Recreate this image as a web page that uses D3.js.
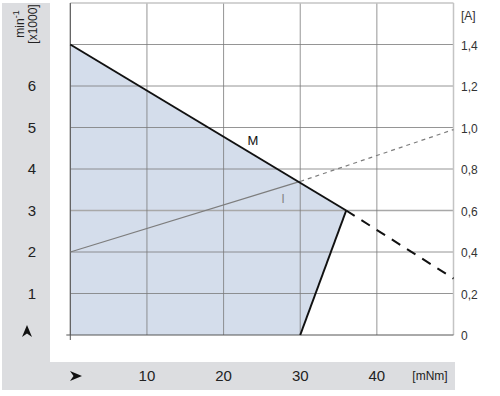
<!DOCTYPE html>
<html><head><meta charset="utf-8">
<script src="https://cdn.jsdelivr.net/npm/d3@7"></script>
<style>body{margin:0;background:#fff}svg{display:block;font-family:"Liberation Sans",Arial,sans-serif}</style>
</head><body><svg id="c" width="500" height="396"></svg>
<script>
const speedTicks = [1,2,3,4,5,6];
const currentTicks = [0,0.2,0.4,0.6,0.8,1.0,1.2,1.4];
const torqueTicks = [10,20,30,40];
const gridTorque = [0,10,20,30,40];
const gridSpeed = [1,2,3,4,5,6,7];
const areaTorque = [0,0,36,30];
const areaSpeed = [0,7,3,0];
const mSolidTorque = [0,36];
const mSolidSpeed = [7,3];
const mDashTorque = [36,50];
const mDashSpeed = [3,1.36];
const iSolidTorque = [0,30];
const iSolidCurrent = [0.4,0.74];
const iDashTorque = [30,50];
const iDashCurrent = [0.74,0.99];

const svg = d3.select("#c");
const x = d3.scaleLinear().domain([0,50]).range([70.3,453.5]);
const y = d3.scaleLinear().domain([0,8]).range([335,3]);
const yA = d3.scaleLinear().domain([0,1.6]).range([335,3]);
const gray = "#dcdde0";

// gray frame
svg.append("rect").attr("x",2).attr("y",3).attr("width",48).attr("height",387).attr("fill",gray);
svg.append("rect").attr("x",2).attr("y",362).attr("width",453).attr("height",28).attr("fill",gray);

// area
const pts = areaTorque.map((t,i)=>[x(t),y(areaSpeed[i])]);
svg.append("path").attr("d",d3.line()(pts)+"Z").attr("fill","#d4ddeb");

// grid
svg.selectAll(".hg").data(gridSpeed).join("line")
  .attr("x1",x(0)).attr("x2",x(50)).attr("y1",d=>y(d)).attr("y2",d=>y(d))
  .attr("stroke",d=>d===3?"#a8a8a8":"#7a7a7a").attr("stroke-width",d=>d===3?1.6:0.8);
svg.selectAll(".vg").data(gridTorque).join("line")
  .attr("x1",d=>x(d)).attr("x2",d=>x(d)).attr("y1",y(0)).attr("y2",y(8))
  .attr("stroke","#7a7a7a").attr("stroke-width",0.8);
// top and right border
svg.append("line").attr("x1",x(0)).attr("x2",x(50)).attr("y1",y(8)).attr("y2",y(8)).attr("stroke","#c4c4c4").attr("stroke-width",1.5);
svg.append("line").attr("x1",x(50)).attr("x2",x(50)).attr("y1",y(8)).attr("y2",y(0)).attr("stroke","#c4c4c4").attr("stroke-width",1.5);
// axes
svg.append("line").attr("x1",x(0)-4).attr("x2",x(50)).attr("y1",y(0)).attr("y2",y(0)).attr("stroke","#555").attr("stroke-width",1);
svg.append("line").attr("x1",x(0)).attr("x2",x(0)).attr("y1",y(8)).attr("y2",y(0)+5).attr("stroke","#555").attr("stroke-width",1);

// current line
const line = d3.line();
svg.append("path").attr("d",line(iSolidTorque.map((t,i)=>[x(t),yA(iSolidCurrent[i])])))
  .attr("stroke","#7d7d7d").attr("stroke-width",1.3).attr("fill","none");
svg.append("path").attr("d",line(iDashTorque.map((t,i)=>[x(t),yA(iDashCurrent[i])])))
  .attr("stroke","#7d7d7d").attr("stroke-width",1.2).attr("stroke-dasharray","4,4").attr("fill","none");
// M line
svg.append("path").attr("d",line(mSolidTorque.map((t,i)=>[x(t),y(mSolidSpeed[i])])))
  .attr("stroke","#111").attr("stroke-width",2).attr("fill","none");
svg.append("path").attr("d",line(areaTorque.slice(2).map((t,i)=>[x(t),y(areaSpeed.slice(2)[i])])))
  .attr("stroke","#111").attr("stroke-width",2).attr("fill","none");
svg.append("path").attr("d",line(mDashTorque.map((t,i)=>[x(t),y(mDashSpeed[i])])))
  .attr("stroke","#111").attr("stroke-width",2).attr("stroke-dasharray","10,8").attr("fill","none");

// labels
svg.append("text").attr("x",253).attr("y",145).attr("text-anchor","middle").attr("font-size",13).attr("fill","#111").text("M");
svg.append("text").attr("x",283).attr("y",203).attr("text-anchor","middle").attr("font-size",13).attr("fill","#888").text("I");

// left ticks
svg.selectAll(".lt").data(speedTicks).join("text")
  .attr("x",32).attr("y",d=>y(d)+5).attr("text-anchor","middle").attr("font-size",15).attr("fill","#222").text(d=>d);
// bottom ticks
svg.selectAll(".bt").data(torqueTicks).join("text")
  .attr("x",d=>x(d)).attr("y",381).attr("text-anchor","middle").attr("font-size",15).attr("fill","#222").text(d=>d);
svg.append("text").attr("x",430).attr("y",380).attr("text-anchor","middle").attr("font-size",12).attr("fill","#222").text("[mNm]");
// right ticks
svg.selectAll(".rt").data(currentTicks).join("text")
  .attr("x",461).attr("y",d=>yA(d)+5).attr("font-size",12).attr("fill","#333")
  .text(d=>d===0?"0":d.toFixed(1).replace(".",","));
svg.append("text").attr("x",461).attr("y",20).attr("font-size",12).attr("fill","#333").text("[A]");

// arrows
svg.append("path").attr("d","M27,325 L32,337 L27,333.5 L22,337 Z").attr("fill","#111");
svg.append("path").attr("d","M70,371 L82,376 L70,381 L73.5,376 Z").attr("fill","#111");

// rotated axis title
const g = svg.append("g").attr("transform","translate(0,24) rotate(-90)");
const t1 = g.append("text").attr("x",0).attr("y",24).attr("text-anchor","middle").attr("font-size",12).attr("fill","#222");
t1.append("tspan").text("min");
t1.append("tspan").attr("dy",-5).attr("font-size",9).text("-1");
g.append("text").attr("x",0).attr("y",37).attr("text-anchor","middle").attr("font-size",12).attr("fill","#222").text("[x1000]");
</script></body></html>
